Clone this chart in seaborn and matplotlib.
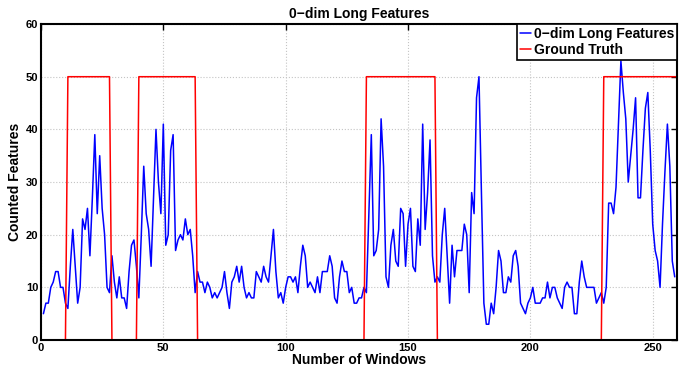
import matplotlib
matplotlib.use('Agg')
import matplotlib.pyplot as plt
import seaborn as sns
import numpy as np
import pandas as pd

sns.set_style("whitegrid")
plt.rcParams['font.family'] = ['Liberation Sans', 'DejaVu Sans']
plt.rcParams['font.weight'] = 'bold'
plt.rcParams['text.color'] = 'black'
plt.rcParams['axes.labelcolor'] = 'black'

# counted 0-dim long features per window (window 1..259)
feature_counts = [
    5, 7, 7, 10, 11, 13, 13, 10, 10, 7,
    6, 14, 21, 14, 7, 10, 23, 21, 25, 16,
    27, 39, 24, 35, 25, 20, 10, 9, 16, 11,
    8, 12, 8, 8, 6, 13, 18, 19, 14, 8,
    20, 33, 24, 21, 14, 27, 40, 30, 24, 41,
    18, 20, 36, 39, 17, 19, 20, 19, 23, 20,
    21, 16, 9, 13, 11, 11, 9, 11, 10, 8,
    9, 8, 9, 10, 13, 9, 6, 11, 12, 14,
    11, 14, 10, 8, 9, 8, 8, 13, 12, 11,
    14, 12, 11, 16, 21, 13, 8, 9, 7, 10,
    12, 12, 11, 12, 9, 14, 18, 16, 10, 11,
    10, 9, 12, 9, 13, 13, 13, 16, 14, 8,
    7, 12, 15, 13, 13, 9, 10, 7, 7, 8,
    8, 10, 9, 24, 39, 16, 17, 21, 42, 33,
    12, 10, 18, 21, 15, 14, 25, 24, 14, 22,
    25, 14, 13, 23, 18, 41, 21, 28, 38, 16,
    11, 12, 11, 20, 25, 16, 7, 18, 12, 17,
    17, 17, 22, 20, 9, 28, 24, 46, 50, 28,
    7, 3, 3, 7, 5, 10, 17, 15, 9, 9,
    12, 11, 16, 17, 14, 7, 6, 5, 7, 8,
    10, 7, 7, 7, 8, 8, 11, 8, 10, 10,
    8, 7, 6, 10, 11, 10, 10, 5, 5, 11,
    15, 12, 10, 10, 10, 10, 7, 8, 9, 7,
    10, 26, 26, 24, 29, 41, 53, 47, 42, 30,
    35, 40, 46, 27, 27, 36, 44, 47, 36, 22,
    17, 15, 10, 22, 32, 41, 33, 15, 12,
]

# ground truth: windows where the event is on (start, end), level 50
gt_intervals = [(11, 28), (40, 63), (133, 161), (230, 260)]
gt_level = 50
n_windows = 260

windows = np.arange(1, len(feature_counts) + 1)
df_feat = pd.DataFrame({'window': windows, 'count': feature_counts})

gt_x = np.arange(0, n_windows + 1)
gt_y = np.zeros(len(gt_x))
for start, end in gt_intervals:
    gt_y[(gt_x >= start) & (gt_x <= end)] = gt_level
df_gt = pd.DataFrame({'window': gt_x, 'truth': gt_y})

fig = plt.figure(figsize=(6.91, 3.70), dpi=100)
ax = fig.add_axes([0.0593, 0.081, 0.9207, 0.854])

sns.lineplot(data=df_feat, x='window', y='count', ax=ax, color='#0000ff',
             linewidth=1.1, label='0\u2212dim Long Features')
sns.lineplot(data=df_gt, x='window', y='truth', ax=ax, color='#ff0000',
             linewidth=1.1, label='Ground Truth')

ax.set_xlim(0, n_windows)
ax.set_ylim(0, 60)
ax.set_xticks([0, 50, 100, 150, 200, 250])
ax.set_yticks([0, 10, 20, 30, 40, 50, 60])

ax.grid(True, color='#c4c4c4', linestyle=':', linewidth=0.8)
for s in ax.spines.values():
    s.set_color('black')
    s.set_linewidth(1.5)
ax.tick_params(direction='in', length=4, width=1, top=True, right=True,
               labelsize=8, pad=2, colors='black')
for lab in ax.get_xticklabels() + ax.get_yticklabels():
    lab.set_fontweight('bold')

ax.set_title('0\u2212dim Long Features', fontsize=10, fontweight='bold', pad=4)
ax.set_xlabel('Number of Windows', fontsize=10, fontweight='bold', labelpad=0)
ax.set_ylabel('Counted Features', fontsize=10, fontweight='bold', labelpad=3)

leg = ax.legend(loc='upper right', borderaxespad=0, fancybox=False,
                framealpha=1, edgecolor='black', handlelength=0.8,
                handletextpad=0.2, borderpad=0.2, labelspacing=0.15,
                prop={'weight': 'bold', 'size': 10})
leg.get_frame().set_linewidth(1.2)

plt.savefig('out.png', dpi=100)
plt.close()
